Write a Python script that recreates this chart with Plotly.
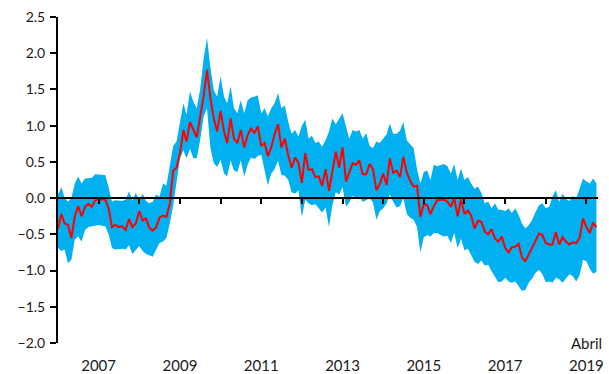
import pandas as pd
import plotly.graph_objs as go

# monthly, Jan 2006 .. Apr 2019
months = pd.date_range("2006-01-01", "2019-04-01", freq="MS")

central = [
    -0.42, -0.22, -0.35, -0.37, -0.55, -0.25, -0.11, -0.25, -0.12, -0.08, -0.12, -0.03,
    -0.02, -0.02, -0.02, -0.14, -0.40, -0.37, -0.40, -0.39, -0.44, -0.29, -0.40, -0.35,
    -0.18, -0.31, -0.28, -0.41, -0.45, -0.40, -0.27, -0.24, -0.26, -0.08, 0.38, 0.42,
    0.62, 0.94, 0.78, 1.05, 0.94, 0.84, 1.12, 1.40, 1.77, 1.38, 1.10, 0.92,
    1.20, 0.92, 0.76, 1.10, 0.82, 0.76, 0.94, 0.70, 0.87, 0.96, 0.90, 0.99,
    0.72, 0.76, 0.58, 0.70, 0.88, 1.02, 0.70, 0.82, 0.59, 0.42, 0.56, 0.49,
    0.21, 0.62, 0.39, 0.40, 0.29, 0.30, 0.17, 0.40, 0.10, 0.36, 0.64, 0.42,
    0.70, 0.23, 0.35, 0.48, 0.46, 0.52, 0.33, 0.33, 0.47, 0.40, 0.11, 0.19,
    0.34, 0.18, 0.55, 0.35, 0.38, 0.29, 0.57, 0.35, 0.24, 0.16, 0.17, -0.26,
    -0.08, -0.10, -0.22, -0.11, -0.03, -0.02, -0.02, -0.05, -0.12, 0.00, -0.25, -0.02,
    -0.22, -0.17, -0.24, -0.42, -0.31, -0.33, -0.46, -0.50, -0.43, -0.56, -0.60, -0.53,
    -0.69, -0.75, -0.68, -0.67, -0.63, -0.82, -0.87, -0.78, -0.68, -0.57, -0.49, -0.51,
    -0.62, -0.64, -0.64, -0.47, -0.64, -0.54, -0.60, -0.64, -0.61, -0.62, -0.55, -0.28,
    -0.40, -0.48, -0.34, -0.40,
]

upper = [
    0.05, 0.15, 0.00, -0.05, 0.00, 0.20, 0.30, 0.20, 0.27, 0.28, 0.28, 0.33,
    0.33, 0.33, 0.32, 0.15, -0.05, -0.03, -0.04, -0.04, -0.02, 0.09, -0.03, 0.07,
    -0.03, 0.06, -0.04, -0.07, -0.05, 0.05, 0.02, 0.20, 0.17, 0.45, 0.72, 0.78,
    1.05, 1.31, 1.15, 1.47, 1.33, 1.24, 1.50, 1.92, 2.21, 1.81, 1.49, 1.40,
    1.68, 1.40, 1.31, 1.54, 1.24, 1.17, 1.35, 1.17, 1.35, 1.39, 1.40, 1.42,
    1.17, 1.24, 1.13, 1.24, 1.31, 1.45, 1.24, 1.28, 1.05, 0.89, 0.94, 0.85,
    1.00, 1.08, 0.82, 0.86, 0.76, 0.78, 0.71, 0.80, 0.92, 1.10, 1.02, 1.10,
    1.17, 0.99, 0.82, 0.94, 0.92, 0.94, 0.82, 0.90, 0.72, 0.69, 0.78, 0.76,
    0.82, 0.88, 1.03, 0.89, 0.89, 0.93, 1.05, 0.80, 0.74, 0.69, 0.40, 0.20,
    0.36, 0.38, 0.25, 0.46, 0.44, 0.46, 0.47, 0.44, 0.34, 0.47, 0.25, 0.41,
    0.25, 0.29, 0.20, 0.13, 0.16, 0.07, -0.07, -0.05, -0.14, -0.07, -0.16, -0.16,
    -0.18, -0.14, -0.21, -0.14, -0.23, -0.35, -0.42, -0.37, -0.30, -0.19, -0.10, -0.07,
    -0.14, -0.12, 0.02, 0.11, -0.05, 0.06, -0.01, -0.04, 0.03, -0.01, 0.13, 0.27,
    0.23, 0.20, 0.27, 0.20,
]

lower = [
    -0.69, -0.73, -0.71, -0.90, -0.85, -0.57, -0.53, -0.60, -0.44, -0.40, -0.39, -0.38,
    -0.37, -0.38, -0.39, -0.50, -0.69, -0.71, -0.70, -0.70, -0.71, -0.65, -0.77, -0.72,
    -0.66, -0.73, -0.77, -0.79, -0.81, -0.71, -0.62, -0.60, -0.55, -0.35, -0.10, 0.22,
    0.55, 0.66, 0.55, 0.68, 0.55, 0.55, 0.80, 1.12, 1.24, 0.70, 0.48, 0.43,
    0.53, 0.34, 0.30, 0.52, 0.38, 0.36, 0.52, 0.30, 0.46, 0.56, 0.54, 0.58,
    0.60, 0.38, 0.18, 0.34, 0.40, 0.52, 0.32, 0.31, 0.25, 0.08, 0.06, 0.11,
    -0.26, -0.02, -0.07, -0.10, -0.08, -0.14, -0.20, -0.13, -0.40, -0.10, 0.08, 0.05,
    0.15, -0.12, -0.06, 0.03, 0.01, 0.02, -0.05, -0.03, 0.00, -0.06, -0.30, -0.18,
    -0.14, -0.07, 0.05, -0.05, -0.13, -0.11, 0.00, -0.22, -0.27, -0.30, -0.40, -0.75,
    -0.54, -0.51, -0.53, -0.48, -0.48, -0.51, -0.53, -0.52, -0.62, -0.48, -0.69, -0.56,
    -0.72, -0.70, -0.78, -0.88, -0.91, -0.86, -0.93, -0.92, -1.01, -1.08, -1.16, -1.15,
    -1.10, -1.15, -1.17, -1.15, -1.22, -1.28, -1.27, -1.17, -1.11, -1.03, -0.99, -1.05,
    -1.16, -1.15, -1.17, -1.10, -1.12, -1.17, -1.11, -1.05, -1.08, -1.15, -1.06, -0.85,
    -0.87, -0.98, -1.04, -1.02,
]

year_ticks = [f"{y}-01-01" for y in range(2007, 2020)]
label_ticks = [f"{y}-01-01" for y in range(2007, 2020, 2)]
label_text = [str(y) for y in range(2007, 2020, 2)]

x_range = ["2006-01-01", "2019-04-15"]
font = "Lato, 'Open Sans', sans-serif"

fig = go.Figure()

fig.add_trace(go.Scatter(
    x=months, y=lower, mode="lines", line=dict(width=0, color="#00B0F0"),
    showlegend=False, hoverinfo="skip"
))
fig.add_trace(go.Scatter(
    x=months, y=upper, mode="lines", line=dict(width=0, color="#00B0F0"),
    fill="tonexty", fillcolor="#00B0F0", showlegend=False, hoverinfo="skip"
))
fig.add_trace(go.Scatter(
    x=months, y=central, mode="lines", line=dict(width=2, color="#FF0000"),
    xaxis="x2", showlegend=False
))

fig.update_layout(
    width=609,
    height=374,
    margin=dict(l=58, r=11, t=17, b=31),
    paper_bgcolor="white",
    plot_bgcolor="white",
    font=dict(family=font, color="#1a1a1a"),
    xaxis=dict(
        type="date",
        range=x_range,
        tickmode="array",
        tickvals=label_ticks,
        ticktext=label_text,
        ticks="",
        showline=False,
        showgrid=False,
        zeroline=False,
        automargin=False,
        tickfont=dict(size=15),
        ticklabelstandoff=12,
    ),
    xaxis2=dict(
        type="date",
        range=x_range,
        overlaying="x",
        anchor="free",
        position=2 / 4.5,
        tickmode="array",
        tickvals=year_ticks,
        showticklabels=False,
        ticks="outside",
        ticklen=5,
        tickwidth=2,
        tickcolor="black",
        showline=True,
        linecolor="black",
        linewidth=2,
        showgrid=False,
        zeroline=False,
        automargin=False,
    ),
    yaxis=dict(
        range=[-2, 2.5],
        dtick=0.5,
        tick0=0,
        tickformat=".1f",
        ticks="outside",
        ticklen=6,
        tickwidth=2,
        tickcolor="black",
        showline=True,
        linecolor="black",
        linewidth=2,
        showgrid=False,
        zeroline=False,
        automargin=False,
        tickfont=dict(size=14),
        ticklabelstandoff=2,
    ),
    annotations=[dict(
        x="2019-01-01", y=-2.0, xref="x", yref="y",
        text="Abril", showarrow=False,
        font=dict(size=15, family=font, color="#1a1a1a"),
        xanchor="center", yanchor="middle",
    )],
)

fig.write_html(
    "out.html",
    config={"displayModeBar": False},
    post_script="document.body.style.margin='0';",
)
